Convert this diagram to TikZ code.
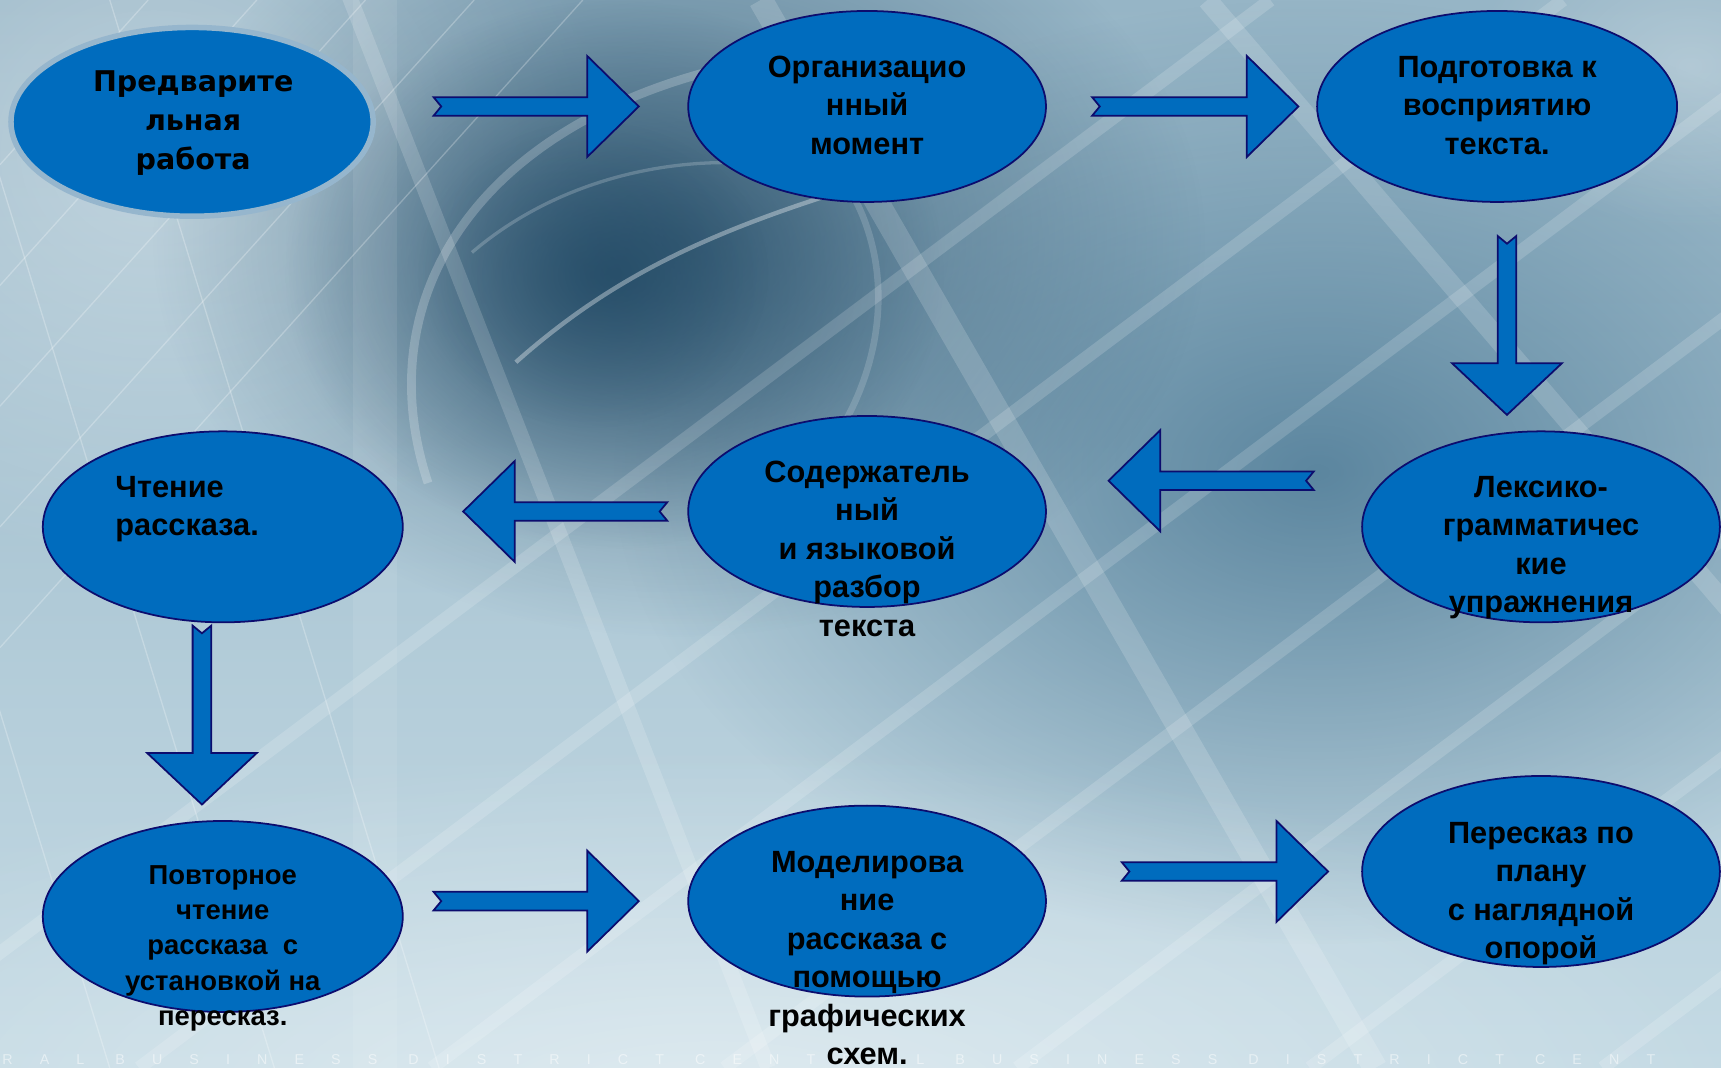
\documentclass[tikz,border=0pt]{standalone}
\usepackage{fontspec}
\setmainfont{Liberation Sans}
\newfontfamily\dvs{DejaVu Sans}
\usetikzlibrary{shapes.geometric,fadings}
\definecolor{ovalfill}{RGB}{0,108,190}
\definecolor{ovaldraw}{RGB}{12,12,110}
\definecolor{ringcol}{RGB}{150,182,205}
\definecolor{bgtop}{RGB}{150,181,198}
\definecolor{bgmid}{RGB}{112,150,172}
\definecolor{bgbot}{RGB}{196,218,228}
\definecolor{darkblob}{RGB}{30,70,98}
\definecolor{midblue}{RGB}{72,118,146}
\tikzfading[name=softedge, inner color=transparent!0, outer color=transparent!100]
\tikzset{
  oval/.style={ellipse, fill=ovalfill, draw=ovaldraw, line width=1.6pt, inner sep=0pt},
  ringoval/.style={ellipse, fill=ovalfill, draw=ringcol, line width=5pt, inner sep=0pt},
  txt/.style={font=\bfseries\fontsize{28}{35}\selectfont, align=center, text=black, inner sep=0pt},
  smalltxt/.style={font=\bfseries\fontsize{25}{32}\selectfont, align=center, text=black, inner sep=0pt},
  firsttxt/.style={font=\dvs\bfseries\fontsize{26}{35.5}\selectfont, align=center, text=black, inner sep=0pt},
  blockarrow/.style={fill=ovalfill, draw=ovaldraw, line width=1.6pt, line join=miter},
  pics/barrow/.style 2 args={code={
    \path[blockarrow] (0,8.5) -- ({#1-47},8.5) -- ({#1-47},#2) -- (#1,0)
      -- ({#1-47},-#2) -- ({#1-47},-8.5) -- (0,-8.5) -- (7,0) -- cycle;}},
  gridline/.style={white, opacity=0.16, line width=12pt},
  thinline/.style={white, opacity=0.25, line width=1.2pt},
  blob/.style={path fading=softedge},
}
\begin{document}
\begin{tikzpicture}[x=1pt,y=-1pt]
\useasboundingbox (0,0) rectangle (1568,973);
\clip (0,0) rectangle (1568,973);
% ---------- background ----------
\shade[top color=bgtop, middle color=bgmid, bottom color=bgbot] (0,0) rectangle (1568,973);
\fill[blob, midblue, opacity=0.8] (1200,430) ellipse (640 and 430);
\fill[blob, white, opacity=0.35] (140,140) ellipse (420 and 380);
\fill[blob, white, opacity=0.45] (650,1010) ellipse (950 and 330);
\fill[blob, white, opacity=0.25] (1540,60) ellipse (200 and 150);
\fill[blob, darkblob, opacity=0.6] (620,220) ellipse (480 and 360);
\fill[blob, darkblob, opacity=0.75] (560,250) ellipse (300 and 250);
\fill[blob, darkblob, opacity=0.4] (540,250) ellipse (160 and 140);
\fill[white, opacity=0.08] (322,0) rectangle (362,973);
% grid of light bands
\foreach \c in {868,1068,1268,1468,1668,1868,2068}
  \draw[gridline] ({(\c-973)/0.75},973) -- ({\c/0.75},0);
\draw[gridline, line width=22pt] (693,0) -- (1253,973);
\draw[gridline, line width=18pt] (1100,0) -- (1700,700);
\draw[gridline, line width=14pt] (300,-50) -- (700,973);
% thin lines top left
\foreach \c in {150,260,370,480,590}
  \draw[thinline] (0,\c) -- ({\c*0.9},0);
\foreach \c in {-200,-50,100}
  \draw[thinline] (\c,0) -- ({\c+300},973);
% light arcs of the eye
\draw[white, opacity=0.22, line width=8pt] (390,440) .. controls (330,260) and (450,90) .. (720,50);
\draw[white, opacity=0.16, line width=6pt] (700,470) .. controls (860,330) and (820,120) .. (640,80);
\draw[white, opacity=0.35, line width=4pt] (470,330) .. controls (560,250) and (650,210) .. (780,170);
\draw[white, opacity=0.2, line width=3pt] (430,230) .. controls (500,170) and (600,140) .. (700,150);
% faint text at the bottom
\node[anchor=base west, inner sep=0pt, text=white, opacity=0.5,
  font=\fontsize{13}{13}\selectfont\addfontfeature{LetterSpace=190}] (bgtext) at (2,970)
  {RAL BUSINESS DISTRICT CENTRAL BUSINESS DISTRICT CENT};
% ---------- ellipses ----------
\node[ringoval, minimum width=330pt, minimum height=172pt] (e1) at (175,111) {};
\node[oval, minimum width=326pt, minimum height=174pt] (e2) at (790,97) {};
\node[oval, minimum width=328pt, minimum height=174pt] (e3) at (1364,97) {};
\node[oval, minimum width=326pt, minimum height=174pt] (e4) at (1404,480) {};
\node[oval, minimum width=326pt, minimum height=174pt] (e5) at (790,466) {};
\node[oval, minimum width=328pt, minimum height=174pt] (e6) at (203,480) {};
\node[oval, minimum width=328pt, minimum height=174pt] (e7) at (203,835) {};
\node[oval, minimum width=326pt, minimum height=174pt] (e8) at (790,821) {};
\node[oval, minimum width=326pt, minimum height=174pt] (e9) at (1404,794) {};
% ---------- texts ----------
\node[firsttxt] (t1) at (176,112) {Предварите\\льная\\работа};
\node[txt] (t2) at (790,96) {Организацио\\нный\\момент};
\node[txt] (t3) at (1364,96) {Подготовка к\\восприятию\\текста.};
\node[txt] (t4) at (1404,499) {Лексико-\\грамматичес\\кие\\упражнения};
\node[txt] (t5) at (790,500) {Содержатель\\ный\\и языковой\\разбор\\текста};
\node[txt, align=left, anchor=west] (t6) at (105,464) {Чтение\\рассказа.};
\node[smalltxt] (t7) at (203,864) {Повторное\\чтение\\рассказа~~с\\установкой на\\пересказ.};
\node[txt] (t8) at (790,873) {Моделирова\\ние\\рассказа с\\помощью\\графических\\схем.};
\node[txt] (t9) at (1404,814) {Пересказ по\\плану\\с наглядной\\опорой};
% ---------- block arrows ----------
\coordinate (a1) at (395,97);
\coordinate (a2) at (995,97);
\coordinate (a3) at (1373,215);
\coordinate (a4) at (1197,438);
\coordinate (a5) at (608,466);
\coordinate (a6) at (184,570);
\coordinate (a7) at (395,821);
\coordinate (a8) at (1022,794);
\pic at (a1) {barrow={187}{46}};
\pic at (a2) {barrow={188}{46}};
\pic[rotate=-90] at (a3) {barrow={163}{50}};
\pic[rotate=180] at (a4) {barrow={187}{46}};
\pic[rotate=180] at (a5) {barrow={186}{46}};
\pic[rotate=-90] at (a6) {barrow={163}{50}};
\pic at (a7) {barrow={187}{46}};
\pic at (a8) {barrow={188}{46}};
\end{tikzpicture}
\end{document}
